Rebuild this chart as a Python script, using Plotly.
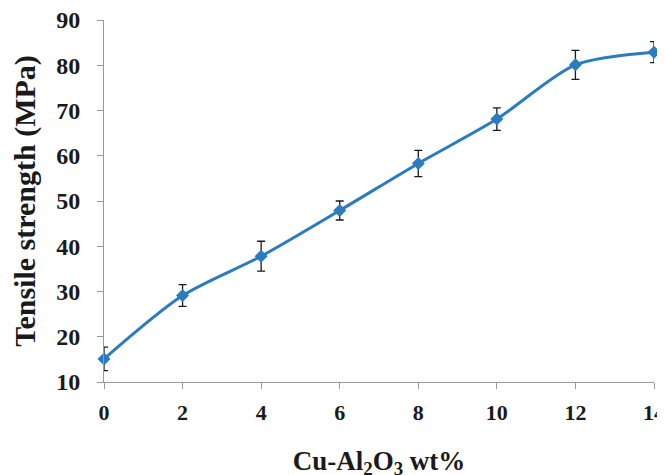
import plotly.graph_objects as go

wt_pct = [0, 2, 4, 6, 8, 10, 12, 14]
tensile = [15.1, 29.1, 37.8, 47.9, 58.3, 68.1, 80.1, 82.9]
err = [2.6, 2.4, 3.3, 2.1, 2.9, 2.5, 3.2, 2.3]

x_ticks = [0, 2, 4, 6, 8, 10, 12, 14]
y_ticks = [10, 20, 30, 40, 50, 60, 70, 80, 90]

font_fam = "Liberation Serif"

fig = go.Figure()
fig.add_trace(go.Scatter(
    x=wt_pct, y=tensile,
    mode="lines+markers",
    line=dict(color="#2a7bbf", width=3, shape="spline", smoothing=0.8),
    marker=dict(symbol="diamond", size=10, color="#2a7bbf"),
    error_y=dict(type="data", array=err, visible=True, color="#1a1a1a",
                 thickness=1.3, width=4),
    cliponaxis=False,
    showlegend=False,
))

# page body has an 8px margin, so the plot area is offset accordingly
fig.update_layout(
    width=657, height=475,
    margin=dict(l=96, r=11, t=12, b=101),
    paper_bgcolor="white", plot_bgcolor="white",
    font=dict(family=font_fam, color="#1a1a1a"),
    xaxis=dict(
        range=[0, 14], tickvals=x_ticks, ticks="outside", ticklen=6,
        tickcolor="#999999", showline=True, linecolor="#999999", linewidth=1,
        showgrid=False, zeroline=False, automargin=False,
        ticklabeloverflow="allow",
        tickfont=dict(family=font_fam, size=22, color="#1a1a1a", weight="bold"),
        ticklabelstandoff=5,
        title=dict(text="Cu-Al<sub>2</sub>O<sub>3</sub> wt%", standoff=26,
                   font=dict(family=font_fam, size=27, color="#1a1a1a", weight="bold")),
    ),
    yaxis=dict(
        range=[10, 90], tickvals=y_ticks, ticks="outside", ticklen=6,
        tickcolor="#999999", showline=True, linecolor="#999999", linewidth=1,
        showgrid=False, zeroline=False, automargin=False,
        ticklabeloverflow="allow",
        tickfont=dict(family=font_fam, size=24, color="#1a1a1a", weight="bold"),
        ticklabelstandoff=12,
        title=dict(text="Tensile strength (MPa)", standoff=13,
                   font=dict(family=font_fam, size=30, color="#1a1a1a", weight="bold")),
    ),
)

fig.write_html(
    "out.html",
    post_script="document.documentElement.style.overflow='hidden';document.body.style.overflow='hidden';",
)
